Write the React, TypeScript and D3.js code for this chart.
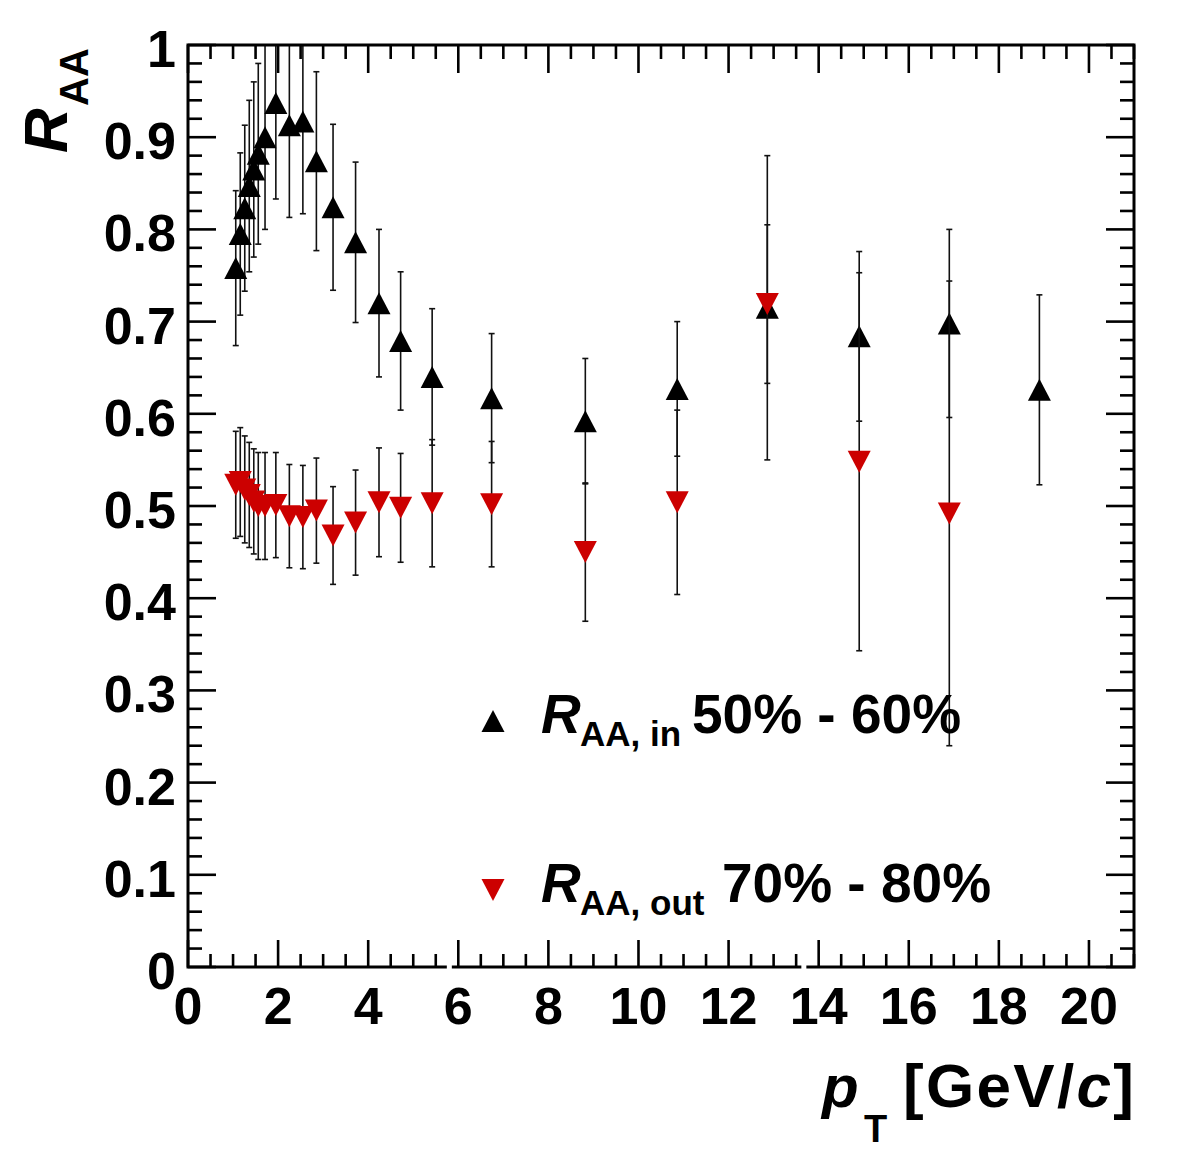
import React from "react";
import * as d3 from "d3";

// R_AA in-plane, 50%-60% centrality
const ptIn = [1.06, 1.16, 1.26, 1.36, 1.46, 1.56, 1.71, 1.95, 2.25, 2.55, 2.85, 3.22, 3.72, 4.24, 4.72, 5.42, 6.74, 8.82, 10.86, 12.86, 14.9, 16.9, 18.9];
const raaIn = [0.758, 0.795, 0.823, 0.847, 0.865, 0.882, 0.9, 0.937, 0.913, 0.917, 0.874, 0.824, 0.786, 0.72, 0.679, 0.64, 0.617, 0.592, 0.627, 0.715, 0.684, 0.698, 0.626];
const errIn = [0.084, 0.088, 0.09, 0.093, 0.095, 0.098, 0.1, 0.104, 0.1, 0.1, 0.097, 0.09, 0.087, 0.08, 0.075, 0.074, 0.07, 0.068, 0.073, 0.165, 0.092, 0.102, 0.103];

// R_AA out-of-plane, 70%-80% centrality
const ptOut = [1.06, 1.16, 1.26, 1.36, 1.46, 1.56, 1.71, 1.95, 2.25, 2.55, 2.85, 3.22, 3.72, 4.24, 4.72, 5.42, 6.74, 8.82, 10.86, 12.86, 14.9, 16.9];
const raaOut = [0.523, 0.526, 0.518, 0.512, 0.505, 0.5, 0.5, 0.501, 0.489, 0.488, 0.495, 0.468, 0.482, 0.504, 0.498, 0.503, 0.502, 0.45, 0.504, 0.719, 0.548, 0.492];
const errOut = [0.058, 0.059, 0.058, 0.057, 0.057, 0.058, 0.058, 0.057, 0.056, 0.056, 0.057, 0.053, 0.057, 0.059, 0.059, 0.069, 0.068, 0.075, 0.1, 0.086, 0.205, 0.252];

const xTicks = [0, 2, 4, 6, 8, 10, 12, 14, 16, 18, 20];
const xTickLabels = ["0", "2", "4", "6", "8", "10", "12", "14", "16", "18", "20"];
const yTicks = [0, 0.1, 0.2, 0.3, 0.4, 0.5, 0.6, 0.7, 0.8, 0.9, 1];
const yTickLabels = ["0", "0.1", "0.2", "0.3", "0.4", "0.5", "0.6", "0.7", "0.8", "0.9", "1"];

const W = 1182;
const H = 1153;
const left = 188, right = 1134, top = 45, bottom = 967;
const FONT = "'Liberation Sans', Arial, Helvetica, sans-serif";
const RED = "#cc0000";

// triangle marker, centred on (cx, cy)
function tri(cx: number, cy: number, up: boolean) {
  const hw = 11.5, hh = 11;
  return up
    ? `M${cx - hw},${cy + hh}L${cx + hw},${cy + hh}L${cx},${cy - hh}Z`
    : `M${cx - hw},${cy - hh}L${cx + hw},${cy - hh}L${cx},${cy + hh}Z`;
}

export default function App() {
  const x = d3.scaleLinear().domain([0, 21]).range([left, right]);
  const y = d3.scaleLinear().domain([0, 1]).range([bottom, top]);

  const xMinor = d3.range(0, 21.01, 0.5).filter((v) => v % 2 !== 0);
  const yMinor = d3.range(0, 1.001, 0.02).filter((v) => Math.abs(v * 10 - Math.round(v * 10)) > 1e-6);

  const errBars = (pts: number[], vals: number[], errs: number[], key: string) =>
    pts.map((p, i) => {
      const cx = x(p);
      const y1 = y(vals[i] + errs[i]);
      const y2 = y(vals[i] - errs[i]);
      return (
        <g key={key + i} stroke="#111" strokeWidth={1.6}>
          <line x1={cx} x2={cx} y1={y1} y2={y2} />
          <line x1={cx - 3} x2={cx + 3} y1={y1} y2={y1} />
          <line x1={cx - 3} x2={cx + 3} y1={y2} y2={y2} />
        </g>
      );
    });

  return (
    <div style={{ position: "absolute", left: 0, top: 0 }}>
      <svg width={W} height={H} style={{ display: "block", background: "#fff" }} fontFamily={FONT} fontWeight="bold">
        <defs>
          <clipPath id="frameClip">
            <rect x={left} y={top} width={right - left} height={bottom - top} />
          </clipPath>
        </defs>

        {/* data */}
        <g clipPath="url(#frameClip)">
          {errBars(ptIn, raaIn, errIn, "ein")}
          {ptIn.map((p, i) => (
            <path key={"min" + i} d={tri(x(p), y(raaIn[i]), true)} fill="#000" />
          ))}
          {errBars(ptOut, raaOut, errOut, "eout")}
          {ptOut.map((p, i) => (
            <path key={"mout" + i} d={tri(x(p), y(raaOut[i]), false)} fill={RED} />
          ))}
        </g>

        {/* frame & ticks */}
        <g stroke="#000" strokeWidth={2.6}>
          {xTicks.map((t) => (
            <g key={"xt" + t}>
              <line x1={x(t)} x2={x(t)} y1={bottom} y2={bottom - 27} />
              <line x1={x(t)} x2={x(t)} y1={top} y2={top + 28} />
            </g>
          ))}
          {xMinor.map((t) => (
            <g key={"xm" + t}>
              <line x1={x(t)} x2={x(t)} y1={bottom} y2={bottom - 13} />
              <line x1={x(t)} x2={x(t)} y1={top} y2={top + 14} />
            </g>
          ))}
          {yTicks.map((t) => (
            <g key={"yt" + t}>
              <line x1={left} x2={left + 28} y1={y(t)} y2={y(t)} />
              <line x1={right} x2={right - 28} y1={y(t)} y2={y(t)} />
            </g>
          ))}
          {yMinor.map((t) => (
            <g key={"ym" + t}>
              <line x1={left} x2={left + 14} y1={y(t)} y2={y(t)} />
              <line x1={right} x2={right - 14} y1={y(t)} y2={y(t)} />
            </g>
          ))}
          <rect x={left} y={top} width={right - left} height={bottom - top} fill="none" strokeWidth={3} />
        </g>
        {/* small gaps in the bottom axis line */}
        <rect x={x(5.79) - 2} y={bottom - 3} width={5} height={6} fill="#fff" />
        <rect x={x(13.66) - 2} y={bottom - 3} width={5} height={6} fill="#fff" />

        {/* tick labels */}
        <g fontSize={52} fill="#000">
          {xTicks.map((t, i) => (
            <text key={"xl" + t} x={x(t)} y={1024} textAnchor="middle">
              {xTickLabels[i]}
            </text>
          ))}
          {yTicks.map((t, i) => (
            <text key={"yl" + t} x={176} y={y(t) + 22} textAnchor="end">
              {yTickLabels[i]}
            </text>
          ))}
        </g>

        {/* x axis title */}
        <text x={822} y={1107} fontSize={60} fontStyle="italic">p</text>
        <text x={864} y={1142} fontSize={38}>T</text>
        <text x={903} y={1107} fontSize={62} textLength={231} lengthAdjust="spacing">
          [GeV/<tspan fontStyle="italic">c</tspan>]
        </text>

        {/* y axis title */}
        <g transform="translate(67,153) rotate(-90)">
          <text x={0} y={0} fontSize={62} fontStyle="italic">R</text>
          <text x={47} y={21} fontSize={40}>AA</text>
        </g>

        {/* legend */}
        <path d={tri(493, 721, true)} fill="#000" />
        <text x={541} y={733} fontSize={55} fontStyle="italic">R</text>
        <text x={580} y={746} fontSize={35}>AA, in</text>
        <text x={692} y={733} fontSize={55}>50% - 60%</text>

        <path d={tri(493, 890, false)} fill={RED} />
        <text x={541} y={902} fontSize={55} fontStyle="italic">R</text>
        <text x={580} y={915} fontSize={35}>AA, out</text>
        <text x={722} y={902} fontSize={55}>70% - 80%</text>
      </svg>
    </div>
  );
}
